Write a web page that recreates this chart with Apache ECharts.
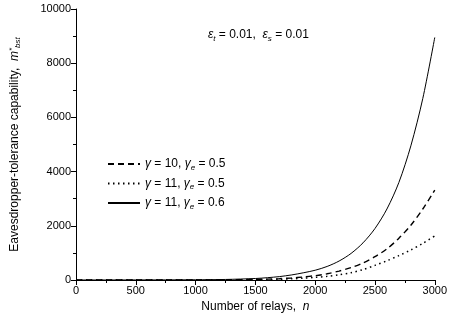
<!DOCTYPE html>
<html>
<head>
<meta charset="utf-8">
<script src="https://cdn.jsdelivr.net/npm/echarts@6/dist/echarts.min.js"></script>
<style>html,body{margin:0;padding:0;background:#fff;}#c{width:450px;height:324px;}</style>
</head>
<body>
<div id="c"></div>
<script>
var relays = [0, 250, 500, 750, 1000, 1250, 1500, 1600, 1700, 1800, 1900, 2000, 2100, 2200, 2300, 2400, 2500, 2600, 2700, 2800, 2900, 3000];
var seriesNames = ['g10e05', 'g11e05', 'g11e06'];
var dashedVals = [0.3, 0.5, 1, 2, 4, 9, 22, 33, 48, 75, 112, 160, 230, 330, 455, 630, 860, 1150, 1540, 2020, 2620, 3320];
var dottedVals = [0.2, 0.3, 0.6, 1, 2, 5, 12, 18, 27, 42, 65, 95, 135, 195, 270, 385, 540, 710, 900, 1110, 1350, 1630];
var solidVals  = [0.5, 1, 2, 4, 8, 20, 55, 85, 125, 185, 265, 360, 500, 700, 980, 1370, 1900, 2620, 3600, 4950, 6700, 8950];
var yTicks = [0, 2000, 4000, 6000, 8000, 10000];
var xTicks = [0, 500, 1000, 1500, 2000, 2500, 3000];

var FONT = 'Liberation Sans, Arial, Helvetica, sans-serif';
function pairs(v){ return relays.map(function(n,i){ return [n, v[i]]; }); }
var legendLabels = {
  g10e05: '{i|γ} = 10, {i|γ}{sub|e} = 0.5',
  g11e05: '{i|γ} = 11, {i|γ}{sub|e} = 0.5',
  g11e06: '{i|γ} = 11, {i|γ}{sub|e} = 0.6'
};
var chart = echarts.init(document.getElementById('c'), null, {renderer: 'canvas'});
chart.setOption({
  animation: false,
  backgroundColor: '#fff',
  textStyle: {fontFamily: FONT, color: '#000'},
  grid: {left: 72, right: 13, top: 9, bottom: 44, containLabel: false},
  xAxis: {
    type: 'value', min: xTicks[0], max: xTicks[xTicks.length-1], interval: 500,
    name: 'Number of relays,  {i|n}', nameLocation: 'middle', nameGap: 14,
    nameTextStyle: {fontSize: 12, fontFamily: FONT, color: '#000',
      rich: {i: {fontStyle: 'italic', fontSize: 12, fontFamily: FONT, color: '#000'}}},
    axisLine: {show: true, onZero: false, lineStyle: {color: '#000', width: 1}},
    axisTick: {show: true, length: 5, lineStyle: {color: '#000'}},
    minorTick: {show: true, splitNumber: 2, length: 3, lineStyle: {color: '#000'}},
    axisLabel: {fontSize: 11, color: '#000', fontFamily: FONT, margin: 5,
      formatter: function(v){ return String(v); }},
    splitLine: {show: false}
  },
  yAxis: {
    type: 'value', min: yTicks[0], max: yTicks[yTicks.length-1], interval: 2000,
    name: 'Eavesdropper-tolerance capability,  {i|m}{sup|*}{sub|bst}', nameLocation: 'middle', nameGap: 54,
    nameTextStyle: {fontSize: 12, fontFamily: FONT, color: '#000',
      rich: {
        i: {fontStyle: 'italic', fontSize: 12, fontFamily: FONT, color: '#000'},
        sup: {fontStyle: 'italic', fontSize: 8, fontFamily: FONT, color: '#000', verticalAlign: 'top', padding: [0,0,6,0]},
        sub: {fontStyle: 'italic', fontSize: 8, fontFamily: FONT, color: '#000', verticalAlign: 'bottom', padding: [6,0,0,0]}
      }},
    axisLine: {show: true, lineStyle: {color: '#000', width: 1}},
    axisTick: {show: true, length: 5, lineStyle: {color: '#000'}},
    minorTick: {show: true, splitNumber: 2, length: 3, lineStyle: {color: '#000'}},
    axisLabel: {fontSize: 11, color: '#000', fontFamily: FONT, margin: 5,
      formatter: function(v){ return String(v); }},
    splitLine: {show: false}
  },
  legend: {
    orient: 'vertical', left: 107, top: 158, padding: 0, itemGap: 6, itemWidth: 32, itemHeight: 14,
    data: seriesNames,
    itemStyle: {opacity: 0},
    formatter: function(n){ return legendLabels[n]; },
    textStyle: {fontSize: 12, fontFamily: FONT, color: '#000',
      rich: {
        i: {fontStyle: 'italic', fontSize: 12, fontFamily: FONT, color: '#000'},
        sub: {fontStyle: 'italic', fontSize: 8, fontFamily: FONT, color: '#000', verticalAlign: 'bottom', padding: [7,0,0,0]}
      }}
  },
  graphic: [{
    type: 'text', left: 208, top: 29,
    style: {
      text: '{e|ε}{s|t} = 0.01,  {e|ε}{s|s} = 0.01',
      font: '12px ' + FONT, fill: '#000',
      rich: {
        e: {fontStyle: 'italic', fontSize: 12, fontFamily: FONT, fill: '#000'},
        s: {fontStyle: 'italic', fontSize: 8, fontFamily: FONT, fill: '#000', verticalAlign: 'bottom', padding: [7,0,0,0]}
      }
    }
  }],
  series: [
    {name: seriesNames[0], type: 'line', data: pairs(dashedVals), smooth: 0.3, symbol: 'none',
     lineStyle: {color: '#000', width: 1.4, type: [6, 4]}, itemStyle: {color: '#000'}},
    {name: seriesNames[1], type: 'line', data: pairs(dottedVals), smooth: 0.3, symbol: 'none',
     lineStyle: {color: '#000', width: 1.5, type: [1.5, 3.5]}, itemStyle: {color: '#000'}},
    {name: seriesNames[2], type: 'line', data: pairs(solidVals), smooth: 0.3, symbol: 'none',
     lineStyle: {color: '#000', width: 1, type: 'solid'}, itemStyle: {color: '#000'}}
  ]
});
</script>
</body>
</html>
